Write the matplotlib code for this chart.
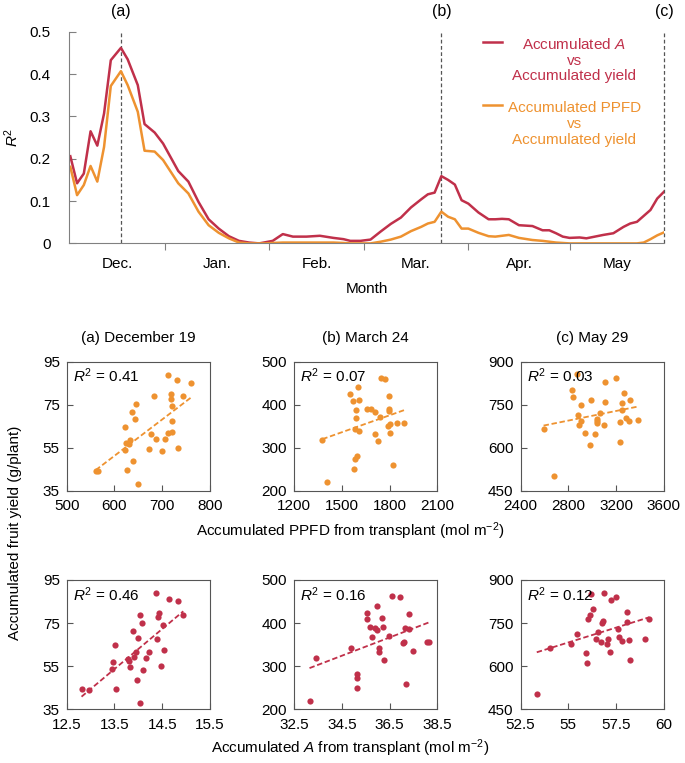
import numpy as np
import matplotlib
matplotlib.use("Agg")
from matplotlib import pyplot as plt

plt.rcParams['font.family'] = ['Liberation Sans', 'DejaVu Sans']
plt.rcParams['mathtext.fontset'] = 'custom'
plt.rcParams['mathtext.rm'] = 'Liberation Sans'
plt.rcParams['mathtext.it'] = 'Liberation Sans:italic'
plt.rcParams['font.size'] = 11

RED = '#C0304A'
ORANGE = '#EE9230'

# ---- top panel: R2 through the season (days since Dec 1) ----
days = [3, 5, 7, 9, 11, 13, 15, 18, 20, 23, 25, 28, 30.5, 35, 38, 41, 44,
        47, 50, 53, 56, 59, 61, 63, 66, 69, 73, 77, 81, 84, 86, 89, 92, 95,
        98, 101, 104, 107, 109, 111, 113, 115, 117, 119, 121, 124, 127, 129,
        131, 133, 136, 140, 143, 145, 147, 149, 151, 154, 156, 158.5, 161,
        164, 167, 169, 171, 173, 175, 177, 179]
r2_A = [0.206, 0.142, 0.165, 0.265, 0.231, 0.307, 0.433, 0.462, 0.435, 0.374,
        0.282, 0.262, 0.236, 0.171, 0.146, 0.098, 0.057, 0.035, 0.017, 0.006,
        0.002, 0.0, 0.003, 0.006, 0.022, 0.016, 0.016, 0.018, 0.013, 0.010,
        0.006, 0.006, 0.009, 0.028, 0.046, 0.061, 0.085, 0.104, 0.116, 0.120,
        0.159, 0.150, 0.139, 0.102, 0.094, 0.073, 0.057, 0.057, 0.058, 0.057,
        0.043, 0.041, 0.031, 0.031, 0.024, 0.016, 0.013, 0.014, 0.012, 0.016,
        0.020, 0.024, 0.039, 0.047, 0.051, 0.065, 0.079, 0.106, 0.122]
r2_ppfd = [0.181, 0.114, 0.138, 0.183, 0.146, 0.228, 0.372, 0.407, 0.374, 0.311,
           0.219, 0.217, 0.197, 0.142, 0.118, 0.075, 0.043, 0.025, 0.012, 0.002,
           0.0, 0.0, 0.0, 0.001, 0.002, 0.002, 0.002, 0.002, 0.002, 0.001,
           0.0, 0.0, 0.0, 0.004, 0.009, 0.016, 0.029, 0.039, 0.047, 0.051,
           0.075, 0.063, 0.057, 0.035, 0.035, 0.025, 0.017, 0.016, 0.018, 0.020,
           0.013, 0.008, 0.006, 0.004, 0.002, 0.001, 0.0, 0.0, 0.0, 0.0,
           0.0, 0.0, 0.0, 0.0, 0.0, 0.002, 0.010, 0.019, 0.026]

month_edges = [31, 62, 90, 121, 151]
month_names = ['Dec.', 'Jan.', 'Feb.', 'Mar.', 'Apr.', 'May']
marked_days = [18, 113, 179]
marked_tags = ['(a)', '(b)', '(c)']
x_start = 2.6
legend_labels = ['Accumulated $A$\nvs\nAccumulated yield',
                 'Accumulated PPFD\nvs\nAccumulated yield']

# ---- scatter panels ----
ppfd_a = [560.7, 565.6, 622.1, 623.5, 622.8, 627.0, 633.3, 630.0, 637.4, 638.1,
          642.3, 644.4, 649.3, 671.6, 676.5, 682.1, 687.7, 698.8, 705.1, 711.4,
          711.4, 719.1, 719.1, 719.8, 720.5, 721.2, 731.6, 733.7, 743.4, 760.9]
ppfd_a_y = [44.1, 44.4, 64.8, 57.4, 54.0, 44.7, 58.6, 57.0, 71.5, 48.8,
            68.2, 75.2, 38.3, 54.5, 61.6, 79.1, 59.1, 53.4, 59.1, 89.0,
            62.1, 79.9, 77.8, 74.6, 67.6, 62.4, 86.3, 55.1, 78.9, 85.3]

ppfd_b = [1377.9, 1407.2, 1553.7, 1570.5, 1601.9, 1606.0, 1591.4, 1589.3, 1581.0, 1608.1,
          1576.7, 1585.1, 1595.6, 1656.3, 1685.6, 1706.5, 1706.5, 1727.4, 1737.9, 1746.3,
          1771.4, 1794.4, 1796.5, 1796.5, 1790.2, 1804.9, 1804.9, 1821.6, 1844.6, 1890.7]
ppfd_b_y = [318.3, 220.1, 424.2, 409.5, 440.5, 411.1, 387.9, 368.6, 343.0, 340.0,
            250.3, 273.5, 282.0, 391.0, 391.0, 384.0, 331.4, 316.0, 370.9, 462.1,
            459.8, 421.1, 390.2, 385.6, 350.8, 354.6, 333.8, 259.5, 357.0, 357.0]

ppfd_c = [2593.0, 2682.5, 2830.8, 2839.2, 2872.7, 2881.1, 2889.5, 2903.5, 2906.3, 2937.1,
          2979.0, 2993.0, 3023.8, 3040.6, 3043.4, 3063.0, 3102.1, 3110.5, 3110.5, 3202.8,
          3230.8, 3230.8, 3247.6, 3250.3, 3264.3, 3283.9, 3306.3, 3320.3, 3384.6, 3040.0]
ppfd_c_y = [665.7, 503.4, 800.3, 778.2, 857.1, 714.4, 679.6, 750.4, 694.8, 650.6,
            610.1, 766.6, 648.3, 699.4, 687.8, 722.6, 679.6, 760.8, 830.4, 842.0,
            688.9, 621.7, 730.7, 755.0, 790.9, 702.8, 693.6, 766.6, 697.0, 692.0]

A_a = [12.81, 12.96, 13.44, 13.46, 13.52, 13.53, 13.79, 13.81, 13.82, 13.89,
       13.91, 13.94, 13.99, 13.98, 14.03, 14.04, 14.08, 14.10, 14.16, 14.23,
       14.36, 14.40, 14.42, 14.43, 14.48, 14.52, 14.54, 14.65, 14.84, 14.94]
A_a_y = [44.4, 44.0, 53.9, 57.0, 64.7, 44.6, 58.5, 57.4, 54.5, 71.5,
         59.1, 61.4, 68.1, 48.6, 78.9, 37.9, 75.2, 53.2, 59.0, 61.6,
         89.0, 67.5, 77.7, 79.8, 55.0, 74.3, 62.4, 86.2, 85.1, 78.9]

A_b = [33.15, 33.44, 34.90, 35.13, 35.13, 35.15, 35.56, 35.54, 35.69, 35.76,
       35.89, 35.97, 35.99, 36.06, 36.06, 36.17, 36.22, 36.26, 36.49, 36.60,
       36.92, 37.06, 37.11, 37.13, 37.31, 37.33, 37.19, 37.47, 38.06, 38.15]
A_b_y = [219.3, 318.3, 341.5, 250.3, 271.9, 281.2, 424.2, 408.8, 390.2, 368.6,
         387.9, 383.2, 440.5, 341.5, 332.2, 411.9, 390.2, 315.2, 370.9, 462.1,
         459.8, 353.1, 357.0, 389.4, 420.4, 385.6, 258.8, 334.6, 357.0, 357.0]

A_c = [53.35, 54.05, 55.14, 55.47, 55.92, 55.99, 56.01, 56.11, 56.20, 56.27,
       56.44, 56.53, 56.70, 56.74, 56.81, 56.86, 57.03, 57.07, 57.19, 57.26,
       57.48, 57.59, 57.66, 57.83, 58.07, 58.09, 58.19, 58.21, 59.04, 59.24]
A_c_y = [503.4, 664.6, 678.5, 712.1, 647.2, 610.1, 764.3, 777.1, 850.1, 799.1,
         695.9, 720.2, 685.4, 751.5, 758.5, 855.9, 677.3, 693.6, 650.6, 830.4,
         839.7, 730.7, 702.8, 688.9, 788.7, 753.9, 691.2, 620.5, 694.8, 765.5]

panel_titles = ['(a) December 19', '(b) March 24', '(c) May 29']
r2_ppfd_labels = ['0.41', '0.07', '0.03']
r2_A_labels = ['0.46', '0.16', '0.12']
ppfd_xticks = [[500, 600, 700, 800], [1200, 1500, 1800, 2100], [2400, 2800, 3200, 3600]]
A_xticks = [[12.5, 13.5, 14.5, 15.5], [32.5, 34.5, 36.5, 38.5], [52.5, 55, 57.5, 60]]
A_xticklabels = [['12.5', '13.5', '14.5', '15.5'], ['32.5', '34.5', '36.5', '38.5'],
                 ['52.5', '55', '57.5', '60']]
yticks = [[35, 55, 75, 95], [200, 300, 400, 500], [450, 600, 750, 900]]

fig = plt.figure(figsize=(6.85, 7.63), dpi=100)

# ---------------- top time-course ----------------
ax = fig.add_axes([0.1007, 0.681, 0.8686, 0.2773])
ax.plot(days, r2_A, color=RED, lw=1.8)
ax.plot(days, r2_ppfd, color=ORANGE, lw=1.8)
for d, tag in zip(marked_days, marked_tags):
    ax.axvline(d, color='#555555', ls=(0, (3, 2)), lw=0.9, zorder=0, clip_on=False)
    ax.annotate(tag, (d, 1), xycoords=('data', 'axes fraction'), xytext=(0, 9),
                textcoords='offset points', ha='center', va='bottom', fontsize=11.5)
ax.set_xlim(x_start, 179)
ax.set_ylim(0, 0.5)
ax.set_yticks([0, 0.1, 0.2, 0.3, 0.4, 0.5])
ax.set_yticklabels(['0', '0.1', '0.2', '0.3', '0.4', '0.5'])
ax.set_xticks(month_edges)
ax.set_xticklabels([])
mids = [(a + b) / 2 for a, b in zip([x_start] + month_edges, month_edges + [179])]
ax.set_xticks(mids, minor=True)
ax.set_xticklabels(month_names, minor=True)
ax.tick_params(axis='x', which='major', direction='out', length=5, color='#808080')
ax.tick_params(axis='x', which='minor', length=0, pad=10)
ax.tick_params(axis='y', direction='in', length=5, color='#808080', pad=13)
ax.spines[['top', 'right']].set_visible(False)
ax.spines[['left', 'bottom']].set_color('#808080')
ax.set_xlabel('Month', labelpad=8)
ax.set_ylabel('$R^2$', labelpad=6)

# hand-made legend: handle beside the first text line, text centred
for (hy, ty), color, label in zip([(0.951, 0.866), (0.654, 0.564)], [RED, ORANGE], legend_labels):
    ax.plot([0.696, 0.728], [hy, hy], color=color, lw=1.8, transform=ax.transAxes, clip_on=False)
    ax.text(0.849, ty, label, color=color, ha='center', va='center', multialignment='center',
            linespacing=1.15, transform=ax.transAxes)

# ---------------- scatter panels ----------------
lefts = [0.0974, 0.4292, 0.7599]
bottoms = [0.3565, 0.0704]
rows = [
    (ORANGE, [(ppfd_a, ppfd_a_y), (ppfd_b, ppfd_b_y), (ppfd_c, ppfd_c_y)],
     r2_ppfd_labels, ppfd_xticks, [[str(v) for v in t] for t in ppfd_xticks]),
    (RED, [(A_a, A_a_y), (A_b, A_b_y), (A_c, A_c_y)],
     r2_A_labels, A_xticks, A_xticklabels),
]
for r, (color, data, r2_labels, xt, xtl) in enumerate(rows):
    for c in range(3):
        sax = fig.add_axes([lefts[c], bottoms[r], 0.2092, 0.1695])
        x = np.array(data[c][0])
        y = np.array(data[c][1])
        sax.scatter(x, y, s=20, color=color, linewidths=0, zorder=3)
        k, b = np.polyfit(x, y, 1)
        xx = np.array([x.min(), x.max()])
        sax.plot(xx, k * xx + b, color=color, ls=(0, (3, 1.5)), lw=1.3, zorder=2)
        sax.set_xlim(xt[c][0], xt[c][-1])
        sax.set_ylim(yticks[c][0], yticks[c][-1])
        sax.set_xticks(xt[c])
        sax.set_xticklabels(xtl[c])
        sax.set_yticks(yticks[c])
        sax.tick_params(direction='in', length=4, color='#555555')
        sax.tick_params(axis='x', pad=6)
        sax.tick_params(axis='y', pad=5)
        for sp in sax.spines.values():
            sp.set_color('#555555')
        sax.text(0.045, 0.96, '$R^2$ = ' + r2_labels[c], transform=sax.transAxes,
                 ha='left', va='top', fontsize=11)
        if r == 0:
            sax.set_title(panel_titles[c], fontsize=11, pad=14)

fig.text(0.511, 1 - 531 / 763, 'Accumulated PPFD from transplant (mol m$^{-2}$)',
         ha='center', va='center', fontsize=11)
fig.text(0.511, 1 - 748 / 763, 'Accumulated $A$ from transplant (mol m$^{-2}$)',
         ha='center', va='center', fontsize=11)
fig.text(0.022, 1 - 533 / 763, 'Accumulated fruit yield (g/plant)', rotation=90,
         ha='center', va='center', fontsize=11)

fig.savefig('out.png', dpi=100)
